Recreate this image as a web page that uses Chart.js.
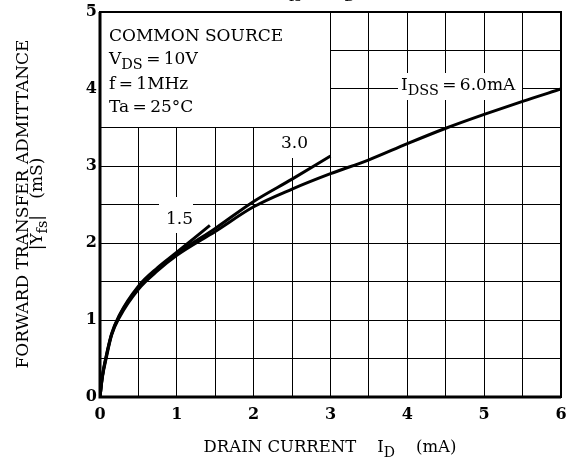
<!DOCTYPE html>
<html>
<head>
<meta charset="utf-8">
<script src="https://cdn.jsdelivr.net/npm/chart.js@4.4.1/dist/chart.umd.min.js"></script>
<style>
  html, body { margin: 0; padding: 0; background: #fff; }
  #wrap { width: 571px; height: 463px; }
</style>
</head>
<body>
<div id="wrap"><canvas id="chart" width="571" height="463"></canvas></div>
<script>
// drain current ID (mA) and |Yfs| (mS)
const idss60_x = [0, 0.03, 0.08, 0.15, 0.25, 0.5, 0.75, 1.0, 1.5, 2.0, 2.5, 3.0, 3.5, 4.0, 4.5, 5.0, 5.5, 6.0]
const idss60_y = [0, 0.25, 0.5, 0.8, 1.03, 1.40, 1.64, 1.84, 2.15, 2.47, 2.70, 2.90, 3.08, 3.29, 3.49, 3.67, 3.84, 4.0]
const idss30_x = [0, 0.03, 0.08, 0.15, 0.25, 0.5, 0.75, 1.0, 1.5, 2.0, 2.5, 3.0]
const idss30_y = [0, 0.26, 0.52, 0.81, 1.05, 1.42, 1.66, 1.86, 2.19, 2.54, 2.83, 3.13]
const idss15_x = [0, 0.03, 0.08, 0.15, 0.25, 0.5, 0.75, 1.0, 1.43]
const idss15_y = [0, 0.27, 0.53, 0.82, 1.06, 1.44, 1.68, 1.88, 2.23]
const xTicks = [0, 1, 2, 3, 4, 5, 6]
const yTicks = [0, 1, 2, 3, 4, 5]

const SERIF = '"DejaVu Serif", serif'
const EQ = '\u2009=\u2009'

function pts(xs, ys) {
    return xs.map((x, i) => ({x: x, y: ys[i]}))
}

// draw text made of [string, isSubscript] pieces
function drawParts(ctx, parts, x, y, size) {
    parts.forEach(p => {
        let sub = p[1]
        ctx.font = (sub ? size * 0.85 : size) + 'px ' + SERIF
        ctx.fillText(p[0], x, sub ? y + size * 0.3 : y)
        x += ctx.measureText(p[0]).width
    })
    return x
}
function partsWidth(ctx, parts, size) {
    let w = 0
    parts.forEach(p => {
        ctx.font = (p[1] ? size * 0.85 : size) + 'px ' + SERIF
        w += ctx.measureText(p[0]).width
    })
    return w
}

const decor = {
    id: 'decor',
    beforeDatasetsDraw(chart) {
        let ctx = chart.ctx
        let xs = chart.scales.x, ys = chart.scales.y
        let a = chart.chartArea
        ctx.save()
        ctx.fillStyle = '#fff'
        // condition box, top left
        ctx.fillRect(a.left, a.top, xs.getPixelForValue(3) - a.left, ys.getPixelForValue(3.5) - a.top)
        // curve label backgrounds
        ctx.fillRect(398, 73, 124, 27)
        ctx.fillRect(275, 118, 37, 40)
        ctx.fillRect(159, 197, 34, 36)
        // frame
        ctx.strokeStyle = '#000'
        ctx.lineWidth = 1
        ctx.beginPath()
        ctx.moveTo(xs.getPixelForValue(3), a.top)
        ctx.lineTo(xs.getPixelForValue(3), ys.getPixelForValue(3.5))
        ctx.lineTo(a.left, ys.getPixelForValue(3.5))
        ctx.stroke()
        ctx.lineWidth = 2
        ctx.strokeRect(a.left, a.top, a.right - a.left, a.bottom - a.top)
        ctx.lineWidth = 3
        ctx.beginPath()
        ctx.moveTo(a.left, a.top)
        ctx.lineTo(a.left, a.bottom)
        ctx.lineTo(a.right, a.bottom)
        ctx.stroke()

        ctx.fillStyle = '#000'
        ctx.textBaseline = 'alphabetic'
        ctx.textAlign = 'left'
        let fs = 17
        drawParts(ctx, [['COMMON SOURCE', false]], 109, 41, fs)
        drawParts(ctx, [['V', false], ['DS', true], [EQ + '10V', false]], 109, 64, fs)
        drawParts(ctx, [['f' + EQ + '1MHz', false]], 109, 89, fs)
        drawParts(ctx, [['Ta' + EQ + '25°C', false]], 109, 112, fs)

        drawParts(ctx, [['I', false], ['DSS', true], [EQ + '6.0mA', false]], 401, 90, fs)
        drawParts(ctx, [['3.0', false]], 281, 148, fs)
        drawParts(ctx, [['1.5', false]], 166, 224, fs)

        // title, mostly cut off at the top
        drawParts(ctx, [['|Y', false], ['fs', true], ['|  \u2013  I', false], ['D', true]], 272, -4, fs)

        // x axis title
        let xt = [['DRAIN CURRENT    I', false], ['D', true], ['    (mA)', false]]
        let w = partsWidth(ctx, xt, 16.5)
        drawParts(ctx, xt, 330 - w / 2, 452, 16.5)

        // y axis title, rotated
        ctx.translate(28, 204)
        ctx.rotate(-Math.PI / 2)
        let l1 = [['FORWARD TRANSFER ADMITTANCE', false]]
        w = partsWidth(ctx, l1, 17)
        drawParts(ctx, l1, -w / 2, 0, 17)
        let l2 = [['|Y', false], ['fs', true], ['|   (mS)', false]]
        w = partsWidth(ctx, l2, 17)
        drawParts(ctx, l2, -w / 2, 14, 17)
        ctx.restore()
    }
}

const line = {
    borderColor: '#000',
    borderWidth: 3,
    pointRadius: 0,
    showLine: true,
    fill: false,
    cubicInterpolationMode: 'monotone'
}

new Chart(document.getElementById('chart'), {
    type: 'scatter',
    data: {
        datasets: [
            Object.assign({label: 'IDSS=6.0mA', data: pts(idss60_x, idss60_y)}, line),
            Object.assign({label: '3.0', data: pts(idss30_x, idss30_y)}, line),
            Object.assign({label: '1.5', data: pts(idss15_x, idss15_y)}, line)
        ]
    },
    options: {
        responsive: false,
        animation: false,
        layout: {padding: {top: 12, right: 10, left: 0, bottom: 0}},
        plugins: {legend: {display: false}, tooltip: {enabled: false}, title: {display: false}},
        scales: {
            x: {
                type: 'linear', min: 0, max: 6,
                afterFit: s => { s.height = 66; s.paddingRight = 0; s.paddingLeft = 0 },
                border: {display: false},
                grid: {color: '#000', lineWidth: 1, drawTicks: false},
                ticks: {
                    stepSize: 0.5, padding: 8, color: '#000',
                    font: {family: SERIF, size: 16, weight: 'bold'},
                    callback: v => xTicks.includes(v) ? String(v) : ''
                }
            },
            y: {
                type: 'linear', min: 0, max: 5,
                afterFit: s => { s.width = 100; s.paddingTop = 0; s.paddingBottom = 0 },
                border: {display: false},
                grid: {color: '#000', lineWidth: 1, drawTicks: false},
                ticks: {
                    stepSize: 0.5, padding: 3, color: '#000',
                    font: {family: SERIF, size: 16, weight: 'bold'},
                    callback: v => yTicks.includes(v) ? String(v) : ''
                }
            }
        }
    },
    plugins: [decor]
})
</script>
</body>
</html>
